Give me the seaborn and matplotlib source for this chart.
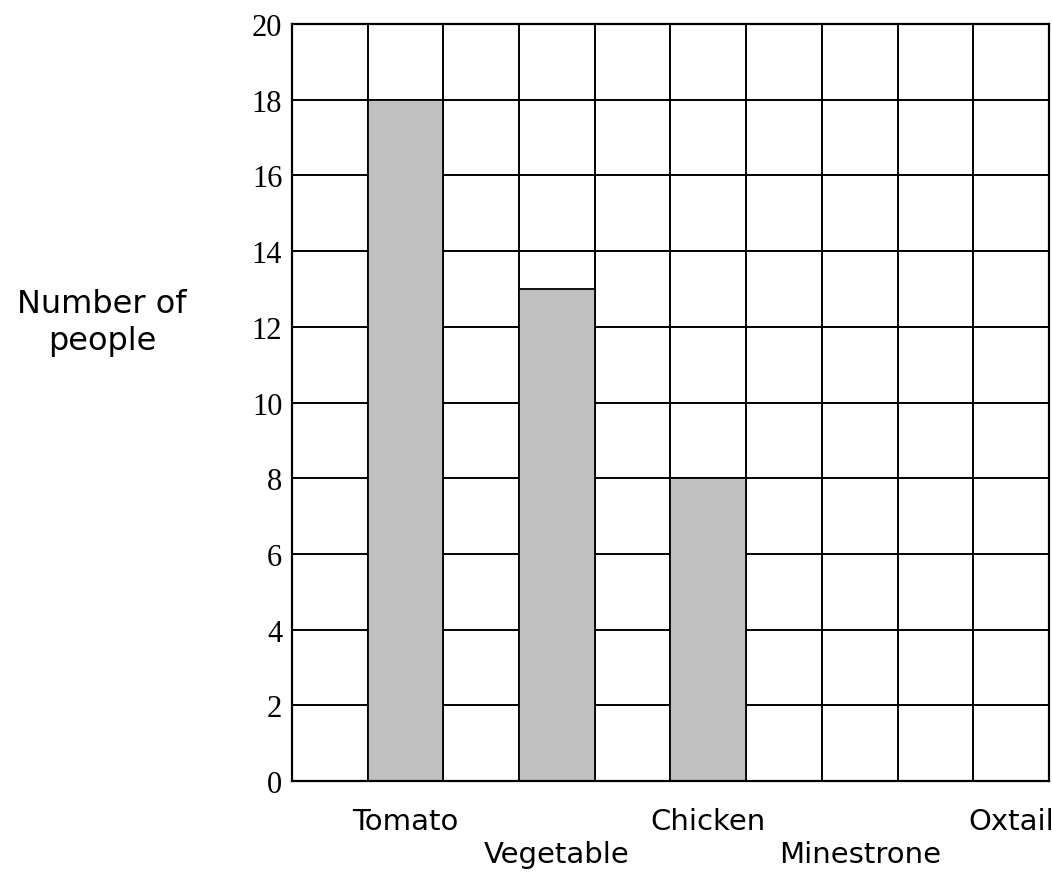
import numpy as np
import pandas as pd
import seaborn as sns
import matplotlib.pyplot as plt

# soup survey - only the first three are filled in
soups = ["Tomato", "Vegetable", "Chicken", "Minestrone", "Oxtail"]
people = [18, 13, 8, np.nan, np.nan]
y_ticks = list(range(0, 21, 2))

sns.set_style("white")
plt.rcParams['font.family'] = ['DejaVu Sans']
plt.rcParams['text.color'] = 'black'
plt.rcParams['axes.labelcolor'] = 'black'
plt.rcParams['xtick.color'] = 'black'
plt.rcParams['ytick.color'] = 'black'

df = pd.DataFrame({"soup": soups, "people": people})
# every soup sits in every second column of a 10 column grid
df["col"] = np.arange(len(soups)) * 2 + 1.5

fig = plt.figure(figsize=(10.52, 8.78), dpi=100)
ax = fig.add_axes([0.2776, 0.1093, 0.9971 - 0.2776, 0.9715 - 0.1093])

sns.barplot(data=df, x="col", y="people", native_scale=True, width=0.5,
            color="#c0c0c0", saturation=1, edgecolor="black", linewidth=1.3,
            ax=ax)

ax.set_xlim(0, 10)
ax.set_ylim(0, 20)

# grid
ax.set_xticks(np.arange(0, 11), minor=True)
ax.set_yticks(y_ticks)
ax.grid(True, which="minor", axis="x", color="black", linewidth=1.4)
ax.grid(True, which="major", axis="y", color="black", linewidth=1.4)
ax.set_axisbelow(True)
for s in ax.spines.values():
    s.set_color("black")
    s.set_linewidth(1.6)

ax.set_yticklabels([str(t) for t in y_ticks], family="Liberation Serif",
                   fontsize=22)
ax.set_xticks(df["col"])
ax.set_xticklabels([s if i % 2 == 0 else "\n" + s for i, s in enumerate(soups)],
                   fontsize=21)
ax.tick_params(axis="both", which="both", length=0)
ax.tick_params(axis="x", pad=19)
ax.tick_params(axis="y", pad=7)

ax.set_xlabel("")
ax.set_ylabel("Number of\npeople", rotation=0, fontsize=23,
              ha="center", va="center", linespacing=1.25)
ax.yaxis.set_label_coords(-0.251, 0.607)

fig.savefig("out.png", dpi=100)
